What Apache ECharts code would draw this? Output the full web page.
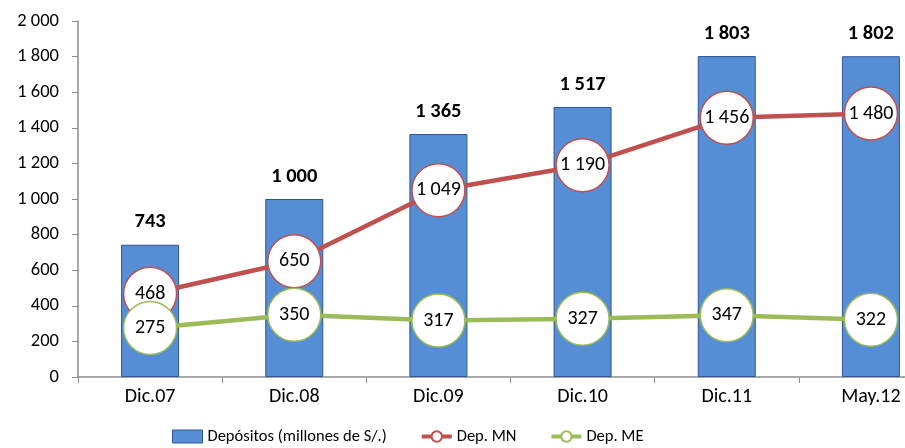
<!DOCTYPE html>
<html>
<head>
<meta charset="utf-8">
<script src="https://cdn.jsdelivr.net/npm/echarts@6/dist/echarts.min.js"></script>
<style>
  html, body { margin: 0; padding: 0; background: #fff; }
  #chart { width: 905px; height: 448px; }
</style>
</head>
<body>
<div id="chart"></div>
<script>
// Deposit balances by period
const categories = ['Dic.07', 'Dic.08', 'Dic.09', 'Dic.10', 'Dic.11', 'May.12'];
const depositos = [743, 1000, 1365, 1517, 1803, 1802];
const depMN = [468, 650, 1049, 1190, 1456, 1480];
const depME = [275, 350, 317, 327, 347, 322];
const yTicks = [0, 200, 400, 600, 800, 1000, 1200, 1400, 1600, 1800, 2000];

const FONT = 'Carlito, "Open Sans", sans-serif';

// thousands separated by a space: 1 803
function fmt(v) {
  return String(v).replace(/\B(?=(\d{3})+(?!\d))/g, ' ');
}

const chart = echarts.init(document.getElementById('chart'));

const circleLabel = {
  show: true,
  position: 'inside',
  color: '#000',
  fontSize: 20,
  fontFamily: FONT,
  formatter: p => fmt(p.value)
};

chart.setOption({
  animation: false,
  grid: { left: 78, top: 21, width: 865, height: 356, outerBoundsMode: 'none' },
  legend: {
    bottom: -2,
    left: 167,
    itemGap: 33,
    itemWidth: 30,
    itemHeight: 13,
    textStyle: { fontSize: 16.5, fontFamily: FONT, color: '#000' },
    data: [
      { name: 'Depósitos (millones de S/.)', icon: 'rect', itemStyle: { borderColor: '#2f5597', borderWidth: 1 } },
      { name: 'Dep. MN', lineStyle: { width: 4 } },
      { name: 'Dep. ME', lineStyle: { width: 4 } }
    ]
  },
  xAxis: {
    type: 'category',
    data: categories,
    axisLine: { lineStyle: { color: '#8c8c8c', width: 1.5 } },
    axisTick: { show: true, length: 6, lineStyle: { color: '#8c8c8c' } },
    axisLabel: { color: '#000', fontSize: 20, fontFamily: FONT, margin: 10 }
  },
  yAxis: {
    type: 'value',
    min: 0,
    max: 2000,
    interval: 200,
    splitLine: { show: false },
    axisLine: { show: true, lineStyle: { color: '#8c8c8c', width: 1.5 } },
    axisTick: { show: true, length: 6, lineStyle: { color: '#8c8c8c' } },
    axisLabel: {
      color: '#000', fontSize: 18.5, fontFamily: FONT, margin: 19,
      formatter: v => yTicks.includes(v) ? fmt(v) : ''
    }
  },
  series: [
    {
      name: 'Depósitos (millones de S/.)',
      type: 'bar',
      data: depositos,
      barWidth: 58,
      itemStyle: { color: '#558ed5', borderColor: '#2f5597', borderWidth: 1 },
      label: {
        show: true,
        position: 'top',
        distance: 12,
        color: '#000',
        fontSize: 20.5,
        fontWeight: 'bold',
        fontFamily: FONT,
        formatter: p => fmt(p.value)
      },
      z: 1
    },
    {
      name: 'Dep. MN',
      type: 'line',
      data: depMN,
      symbol: 'circle',
      symbolSize: 53,
      lineStyle: { color: '#c0504d', width: 4.5 },
      itemStyle: { color: '#fff', borderColor: '#c0504d', borderWidth: 1.5 },
      label: circleLabel,
      z: 3
    },
    {
      name: 'Dep. ME',
      type: 'line',
      data: depME,
      symbol: 'circle',
      symbolSize: 53,
      lineStyle: { color: '#9bbb59', width: 4.5 },
      itemStyle: { color: '#fff', borderColor: '#9bbb59', borderWidth: 1.5 },
      label: circleLabel,
      z: 4
    }
  ]
});
</script>
</body>
</html>
